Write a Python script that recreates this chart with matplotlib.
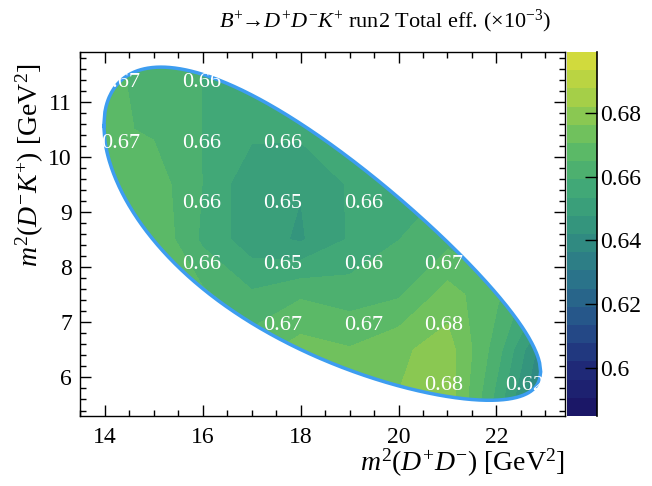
import numpy as np
import matplotlib
matplotlib.use('Agg')
import matplotlib.pyplot as plt
from matplotlib.colors import LinearSegmentedColormap
from matplotlib.patches import Polygon
from matplotlib.ticker import MultipleLocator, FormatStrFormatter

plt.rcParams['font.family'] = ['Liberation Serif', 'DejaVu Serif']
plt.rcParams['mathtext.fontset'] = 'custom'
plt.rcParams['mathtext.rm'] = 'Liberation Serif'
plt.rcParams['mathtext.it'] = 'Liberation Serif:italic'
plt.rcParams['mathtext.bf'] = 'Liberation Serif:bold'

# particle masses (GeV) for the Dalitz boundary
m_B, m_D, m_K = 5.27934, 1.86966, 0.493677

# efficiency map (x10^-3), rows = m2(D-K+), cols = m2(D+D-)
grid_x = [13.5, 15, 16, 17, 18, 19, 20, 21, 22, 23.5]
grid_y = [5.2, 6.5, 7.5, 8.5, 9.5, 10.5, 12.0]
eff = [
    [0.668, 0.668, 0.668, 0.668, 0.670, 0.672, 0.677, 0.680, 0.655, 0.615],
    [0.668, 0.668, 0.668, 0.668, 0.673, 0.671, 0.675, 0.679, 0.662, 0.625],
    [0.670, 0.670, 0.666, 0.660, 0.664, 0.662, 0.664, 0.673, 0.666, 0.645],
    [0.675, 0.670, 0.658, 0.650, 0.647, 0.654, 0.659, 0.663, 0.663, 0.658],
    [0.673, 0.668, 0.659, 0.649, 0.648, 0.654, 0.659, 0.659, 0.659, 0.659],
    [0.667, 0.664, 0.659, 0.655, 0.655, 0.659, 0.659, 0.659, 0.659, 0.659],
    [0.667, 0.663, 0.659, 0.659, 0.659, 0.659, 0.659, 0.659, 0.659, 0.659],
]

# bin-average labels
lab_x = [14.33, 15.98, 14.33, 15.98, 17.63, 15.98, 17.63, 19.28,
         15.98, 17.63, 19.28, 20.93, 17.63, 19.28, 20.93, 20.93, 22.58]
lab_y = [11.35, 11.35, 10.25, 10.25, 10.25, 9.15, 9.15, 9.15,
         8.05, 8.05, 8.05, 8.05, 6.95, 6.95, 6.95, 5.85, 5.85]
lab_txt = ['0.67', '0.66', '0.67', '0.66', '0.66', '0.66', '0.65', '0.66',
           '0.66', '0.65', '0.66', '0.67', '0.67', '0.67', '0.68', '0.68', '0.62']

# Dalitz boundary
s = np.linspace(4 * m_D**2, (m_B - m_K)**2, 400)
e2 = np.sqrt(s) / 2
e3 = (m_B**2 - s - m_K**2) / (2 * np.sqrt(s))
p2 = np.sqrt(np.clip(e2**2 - m_D**2, 0, None))
p3 = np.sqrt(np.clip(e3**2 - m_K**2, 0, None))
hi = (e2 + e3)**2 - (p2 - p3)**2
lo = (e2 + e3)**2 - (p2 + p3)**2
bx = np.concatenate([s, s[::-1]])
by = np.concatenate([hi, lo[::-1]])

cmap = LinearSegmentedColormap.from_list('eff', [
    '#1a1363', '#1f2a78', '#25508a', '#2a738a', '#31907f',
    '#40a877', '#62bd63', '#a3cf48', '#dcdc3a'])
zmin, zmax = 0.585, 0.699
levels = np.linspace(zmin, zmax, 21)

fig = plt.figure(figsize=(6.52, 4.86), dpi=100)
ax = fig.add_axes([0.123, 0.144, 0.7436, 0.749])
cax = fig.add_axes([0.8696, 0.144, 0.046, 0.749])

X, Y = np.meshgrid(grid_x, grid_y)
cs = ax.contourf(X, Y, np.array(eff), levels=levels, cmap=cmap,
                 vmin=zmin, vmax=zmax)
poly = Polygon(np.column_stack([bx, by]), closed=True, transform=ax.transData,
               facecolor='none', edgecolor='none')
ax.add_patch(poly)
cs.set_clip_path(poly)

for x, y, t in zip(lab_x, lab_y, lab_txt):
    txt = ax.text(x, y, t, color='white', fontsize=16, ha='center', va='center')
    txt.set_clip_path(poly)

ax.plot(bx, by, color='#3d9df0', lw=2.5)

ax.set_xlim(13.5, 23.4)
ax.set_ylim(5.3, 11.9)
ax.xaxis.set_major_locator(MultipleLocator(2))
ax.xaxis.set_minor_locator(MultipleLocator(0.5))
ax.yaxis.set_major_locator(MultipleLocator(1))
ax.yaxis.set_minor_locator(MultipleLocator(0.2))
ax.tick_params(which='both', direction='in', top=True, right=True, labelsize=17)
ax.tick_params(which='major', length=8, width=1)
ax.tick_params(which='minor', length=4, width=1)
ax.tick_params(axis='x', pad=8)
ax.tick_params(axis='y', pad=6)
for sp in ax.spines.values():
    sp.set_linewidth(1)

fig.text(565 / 652, 1 - 463 / 486, r'$m^{2}(D^{+}D^{-})$ [GeV$^{2}$]',
         fontsize=20, ha='right', va='center')
fig.text(30 / 652, 1 - 165 / 486, r'$m^{2}(D^{-}K^{+})$ [GeV$^{2}$]',
         fontsize=20, ha='center', va='center', rotation=90)

cb = fig.colorbar(cs, cax=cax)
cb.set_ticks([0.60, 0.62, 0.64, 0.66, 0.68])
cb.ax.yaxis.set_major_formatter(FormatStrFormatter('%g'))
cb.ax.tick_params(direction='in', length=9, width=1, labelsize=17, pad=2)
cb.outline.set_visible(False)
cax.set_ylim(zmin, zmax)
cax.plot([1, 1], [0, 1], transform=cax.transAxes, color='black', lw=1.2, clip_on=False)

fig.text(0.59, 0.955, r'$B^{+}\!\!\rightarrow\! D^{+}D^{-}K^{+}$ run2 Total eff. ($\times10^{-3}$)',
         fontsize=16, ha='center', va='center')

fig.savefig('out.png', dpi=100)
